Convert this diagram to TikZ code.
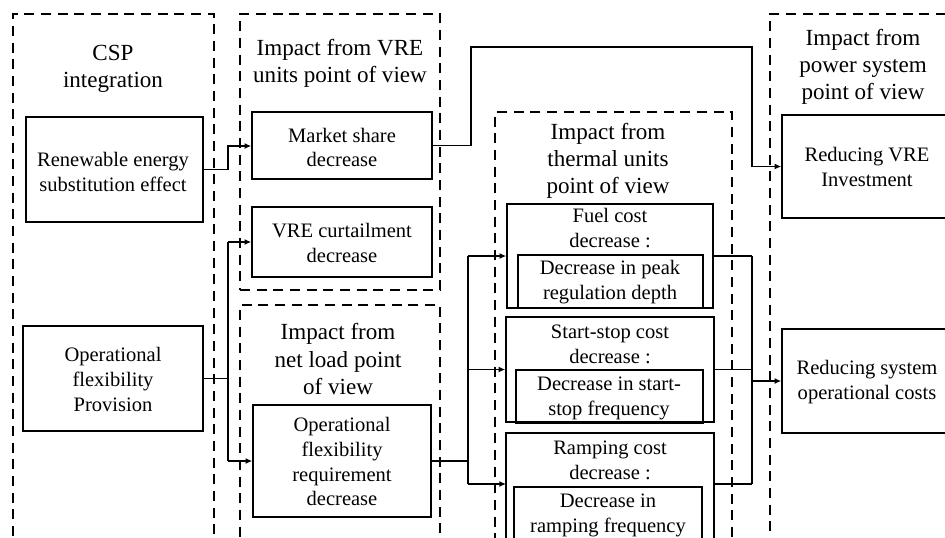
\documentclass[tikz,border=0pt]{standalone}
\usepackage{fontspec}
\setmainfont{Liberation Serif}
\usetikzlibrary{arrows.meta,fit}
\newcommand\myBody{\fontsize{15.4}{18.7}\selectfont}
\newcommand\myTitle{\fontsize{17.3}{20.3}\selectfont}
\tikzset{
 grp/.style={draw, dash pattern=on 7.5pt off 5pt, line width=1pt, inner sep=0pt},
 box/.style={draw, line width=1.1pt, inner sep=0pt},
 ttl/.style={align=center, font=\myTitle, inner sep=0pt},
 txt/.style={align=center, font=\myBody, inner sep=0pt},
 link/.style={line width=1.1pt},
 arr/.style={link, -{Latex[length=5pt,width=4.5pt]}},
}
\begin{document}
\begin{tikzpicture}[x=0.75pt,y=-0.75pt]
\useasboundingbox (0,0) rectangle (945,537);
\fill[white] (0,0) rectangle (945,537);
\clip (0,0) rectangle (945,537);
% groups
\node[grp, fit={(13,14) (214,600)}] (gcsp) {};
\node[grp, fit={(240,14) (440,290)}] (gvre) {};
\node[grp, fit={(240,305) (440,600)}] (gnet) {};
\node[grp, fit={(495,112) (732,600)}] (gth) {};
\node[grp, fit={(770,14) (990,600)}] (gps) {};
% titles
\node[ttl] (tcsp) at (113,69) {CSP\\integration};
\node[ttl] (tvre) at (340,63) {Impact from VRE\\units point of view};
\node[ttl] (tnet) at (338,359) {Impact from\\net load point\\of view};
\node[ttl] (tth) at (608,160.5) {Impact from\\thermal units\\point of view};
\node[ttl] (tps) at (863,67) {Impact from\\power system\\point of view};
% boxes
\node[box, fit={(26,117) (203,222)}] (ren) {};
\node[txt] (tren) at (113,172) {Renewable energy\\substitution effect};
\node[box, fit={(23,326) (203,431)}] (opf) {};
\node[txt] (topf) at (113,379.5) {Operational\\flexibility\\Provision};
\node[box, fit={(252,112) (432,179)}] (mkt) {};
\node[txt] (tmkt) at (342,147.5) {Market share\\decrease};
\node[box, fit={(252,207) (432,277)}] (cur) {};
\node[txt] (tcur) at (342,242.5) {VRE curtailment\\decrease};
\node[box, fit={(253,405) (431,517)}] (ofr) {};
\node[txt] (tofr) at (342,461.5) {Operational\\flexibility\\requirement\\decrease};
\node[box, fit={(782,115) (990,218)}] (rvi) {};
\node[txt] (trvi) at (867,167) {Reducing VRE\\Investment};
\node[box, fit={(782,329) (990,433)}] (rsoc) {};
\node[txt] (trsoc) at (867,382.5) {Reducing system\\operational costs};
% thermal boxes
\node[box, fit={(507,204) (713,308)}] (fuel) {};
\node[box, fit={(518,255) (703,308)}] (fueli) {};
\node[txt] (tfuel) at (610,228) {Fuel cost\\decrease :};
\node[txt] (tfueli) at (610,282.5) {Decrease in peak\\regulation depth};
\node[box, fit={(506,317) (714,422)}] (ss) {};
\node[box, fit={(516,370) (703,423)}] (ssi) {};
\node[txt] (tss) at (610,344.5) {Start-stop cost\\decrease :};
\node[txt] (tssi) at (609,398) {Decrease in start-\\stop frequency};
\node[box, fit={(506,433) (714,541)}] (ramp) {};
\node[box, fit={(514,487) (702,580)}] (rampi) {};
\node[txt] (tramp) at (610,460) {Ramping cost\\decrease :};
\node[txt] (trampi) at (608,515) {Decrease in\\ramping frequency};
% junction coordinates
\coordinate (busA) at (228,300);
\coordinate (busB) at (468,300);
\coordinate (busC) at (752,300);
\coordinate (top1) at (471,47);
\coordinate (top2) at (752,47);
\coordinate (rampin) at (506,484);
\coordinate (rampout) at (714,484);
% connectors left
\draw[arr] (ren.east) -| (busA |- 0,146) -- (mkt.west |- 0,146);
\draw[link] (opf.east) -- (opf.east -| busA);
\draw[link] (busA |- cur.west) -- (busA |- ofr.west);
\draw[arr] (busA |- cur.west) -- (cur.west);
\draw[arr] (busA |- ofr.west) -- (ofr.west);
% market share to VRE investment
\draw[arr] (mkt.east) -| (top1) -- (top2) |- (rvi.west);
% net load to thermal
\draw[link] (ofr.east) -- (ofr.east -| busB);
\draw[link] (busB |- fuel.west) -- (busB |- rampin);
\draw[arr] (busB |- fuel.west) -- (fuel.west);
\draw[arr] (busB |- ss.west) -- (ss.west);
\draw[arr] (busB |- rampin) -- (rampin);
% thermal to operational costs
\draw[link] (fuel.east) -- (fuel.east -| busC);
\draw[link] (ss.east) -- (ss.east -| busC);
\draw[link] (rampout) -- (rampout -| busC);
\draw[link] (busC |- fuel.east) -- (busC |- rampout);
\draw[arr] (busC |- rsoc.west) -- (rsoc.west);
\end{tikzpicture}
\end{document}
